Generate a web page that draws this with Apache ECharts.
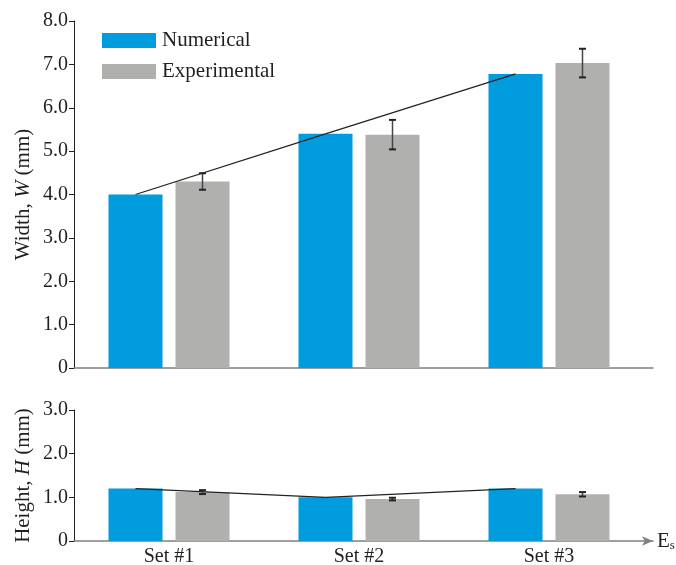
<!DOCTYPE html>
<html>
<head>
<meta charset="utf-8">
<script src="https://cdn.jsdelivr.net/npm/echarts@6/dist/echarts.min.js"></script>
<style>html,body{margin:0;padding:0;background:#fff}#c{width:676px;height:565px}</style>
</head>
<body>
<div id="c"></div>
<script>
const categories = ['Set #1', 'Set #2', 'Set #3'];
const widthNumerical = [4.0, 5.4, 6.78];
const widthExperimental = [4.3, 5.38, 7.03];
const widthExpError = [0.19, 0.34, 0.33];
const heightNumerical = [1.2, 1.0, 1.2];
const heightExperimental = [1.12, 0.96, 1.07];
const heightExpError = [0.045, 0.03, 0.05];
const legendNames = ['Numerical', 'Experimental'];

const FONT = '"Liberation Serif", "DejaVu Serif", serif';
const TXT = '#231f20';
const BLUE = '#009CDE';
const GRAY = '#B0B0AF';
const BAR_W = 54, BAR_GAP = 13;
const OFF = (BAR_W + BAR_GAP) / 2;

const chart = echarts.init(document.getElementById('c'), null, {renderer: 'canvas'});

function trendSeries(vals, xi, yi) {
  return {
    type: 'custom', xAxisIndex: xi, yAxisIndex: yi, z: 5, silent: true,
    data: vals.map((v, i) => [i, v]),
    renderItem: function (params, api) {
      const i = api.value(0);
      if (i >= vals.length - 1) return null;
      const p1 = api.coord([i, vals[i]]);
      const p2 = api.coord([i + 1, vals[i + 1]]);
      return {
        type: 'line',
        shape: {x1: p1[0] - OFF, y1: p1[1], x2: p2[0] - OFF, y2: p2[1]},
        style: {stroke: '#222', lineWidth: 1.3}
      };
    }
  };
}
function errSeries(vals, errs, xi, yi) {
  return {
    type: 'custom', xAxisIndex: xi, yAxisIndex: yi, z: 6, silent: true,
    data: vals.map((v, i) => [i, v - errs[i], v + errs[i]]),
    renderItem: function (params, api) {
      const lo = api.coord([api.value(0), api.value(1)]);
      const hi = api.coord([api.value(0), api.value(2)]);
      const x = lo[0] + OFF;
      const cw = 3.5;
      return {
        type: 'group',
        children: [
          {type: 'line', shape: {x1: x, y1: lo[1], x2: x, y2: hi[1]}, style: {stroke: '#444', lineWidth: 1.5}},
          {type: 'line', shape: {x1: x - cw, y1: lo[1], x2: x + cw, y2: lo[1]}, style: {stroke: '#222', lineWidth: 2}},
          {type: 'line', shape: {x1: x - cw, y1: hi[1], x2: x + cw, y2: hi[1]}, style: {stroke: '#222', lineWidth: 2}}
        ]
      };
    }
  };
}

const yLabel = {
  fontFamily: FONT, fontSize: 20, color: TXT, margin: 6,
  formatter: v => v === 0 ? '0' : v.toFixed(1)
};
const nameRich = {
  a: {fontFamily: FONT, fontSize: 21, color: TXT},
  i: {fontFamily: FONT, fontSize: 21, color: TXT, fontStyle: 'italic'}
};
const gridBase = {outerBoundsMode: 'none', containLabel: false};

const option = {
  animation: false,
  backgroundColor: '#fff',
  legend: {
    data: legendNames, orient: 'vertical', left: 97, top: 25,
    itemWidth: 54, itemHeight: 15, itemGap: 10, icon: 'rect',
    textStyle: {fontFamily: FONT, fontSize: 21, color: TXT, lineHeight: 15, padding: [0, 0, 0, 1]}
  },
  grid: [
    Object.assign({left: 74, right: 32, top: 21, bottom: 197}, gridBase),
    Object.assign({left: 74, right: 32, top: 410, bottom: 24}, gridBase),
    Object.assign({left: 74, right: 23, top: 21, bottom: 197}, gridBase),
    Object.assign({left: 74, right: 23, top: 410, bottom: 24}, gridBase)
  ],
  xAxis: [
    {gridIndex: 0, type: 'category', data: categories, axisLine: {show: false},
     axisTick: {alignWithLabel: true, length: 5, lineStyle: {color: '#444'}}, axisLabel: {show: false}},
    {gridIndex: 1, type: 'category', data: categories, axisLine: {show: false},
     axisTick: {alignWithLabel: true, length: 5, lineStyle: {color: '#444'}},
     axisLabel: {fontFamily: FONT, fontSize: 20, color: TXT, margin: 6}},
    {gridIndex: 2, type: 'value', min: 0, max: 1, axisLine: {onZero: false, lineStyle: {color: '#808080', width: 1.5}},
     axisTick: {show: false}, axisLabel: {show: false}, splitLine: {show: false}},
    {gridIndex: 3, type: 'value', min: 0, max: 1,
     axisLine: {onZero: false, symbol: ['none', 'arrow'], symbolSize: [7, 11], lineStyle: {color: '#808080', width: 1.5}},
     axisTick: {show: false}, axisLabel: {show: false}, splitLine: {show: false},
     name: '{e|E}{s|s}', nameLocation: 'end', nameGap: 4,
     nameTextStyle: {rich: {
       e: {fontFamily: FONT, fontSize: 21, color: TXT},
       s: {fontFamily: FONT, fontSize: 13, color: TXT, verticalAlign: 'bottom', padding: [9, 0, 0, 0]}
     }}}
  ],
  yAxis: [
    {gridIndex: 0, type: 'value', min: 0, max: 8, interval: 1,
     axisLine: {show: true, lineStyle: {color: TXT, width: 1}},
     axisTick: {show: true, length: 5, lineStyle: {color: TXT}},
     axisLabel: yLabel, splitLine: {show: false},
     name: '{a|Width, }{i|W}{a| (mm)}', nameLocation: 'middle', nameGap: 40, nameRotate: 90,
     nameMoveOverlap: false,
     nameTextStyle: {rich: nameRich}},
    {gridIndex: 1, type: 'value', min: 0, max: 3, interval: 1,
     axisLine: {show: true, lineStyle: {color: TXT, width: 1}},
     axisTick: {show: true, length: 5, lineStyle: {color: TXT}},
     axisLabel: yLabel, splitLine: {show: false},
     name: '{a|Height, }{i|H}{a| (mm)}', nameLocation: 'middle', nameGap: 40, nameRotate: 90,
     nameMoveOverlap: false,
     nameTextStyle: {rich: nameRich}},
    {gridIndex: 2, type: 'value', show: false},
    {gridIndex: 3, type: 'value', show: false}
  ],
  series: [
    {name: legendNames[0], type: 'bar', xAxisIndex: 0, yAxisIndex: 0, data: widthNumerical,
     barWidth: BAR_W, barGap: (BAR_GAP / BAR_W * 100) + '%', itemStyle: {color: BLUE}},
    {name: legendNames[1], type: 'bar', xAxisIndex: 0, yAxisIndex: 0, data: widthExperimental,
     barWidth: BAR_W, itemStyle: {color: GRAY}},
    {name: legendNames[0], type: 'bar', xAxisIndex: 1, yAxisIndex: 1, data: heightNumerical,
     barWidth: BAR_W, barGap: (BAR_GAP / BAR_W * 100) + '%', itemStyle: {color: BLUE}},
    {name: legendNames[1], type: 'bar', xAxisIndex: 1, yAxisIndex: 1, data: heightExperimental,
     barWidth: BAR_W, itemStyle: {color: GRAY}},
    trendSeries(widthNumerical, 0, 0),
    trendSeries(heightNumerical, 1, 1),
    errSeries(widthExperimental, widthExpError, 0, 0),
    errSeries(heightExperimental, heightExpError, 1, 1)
  ]
};
chart.setOption(option);
</script>
</body>
</html>
